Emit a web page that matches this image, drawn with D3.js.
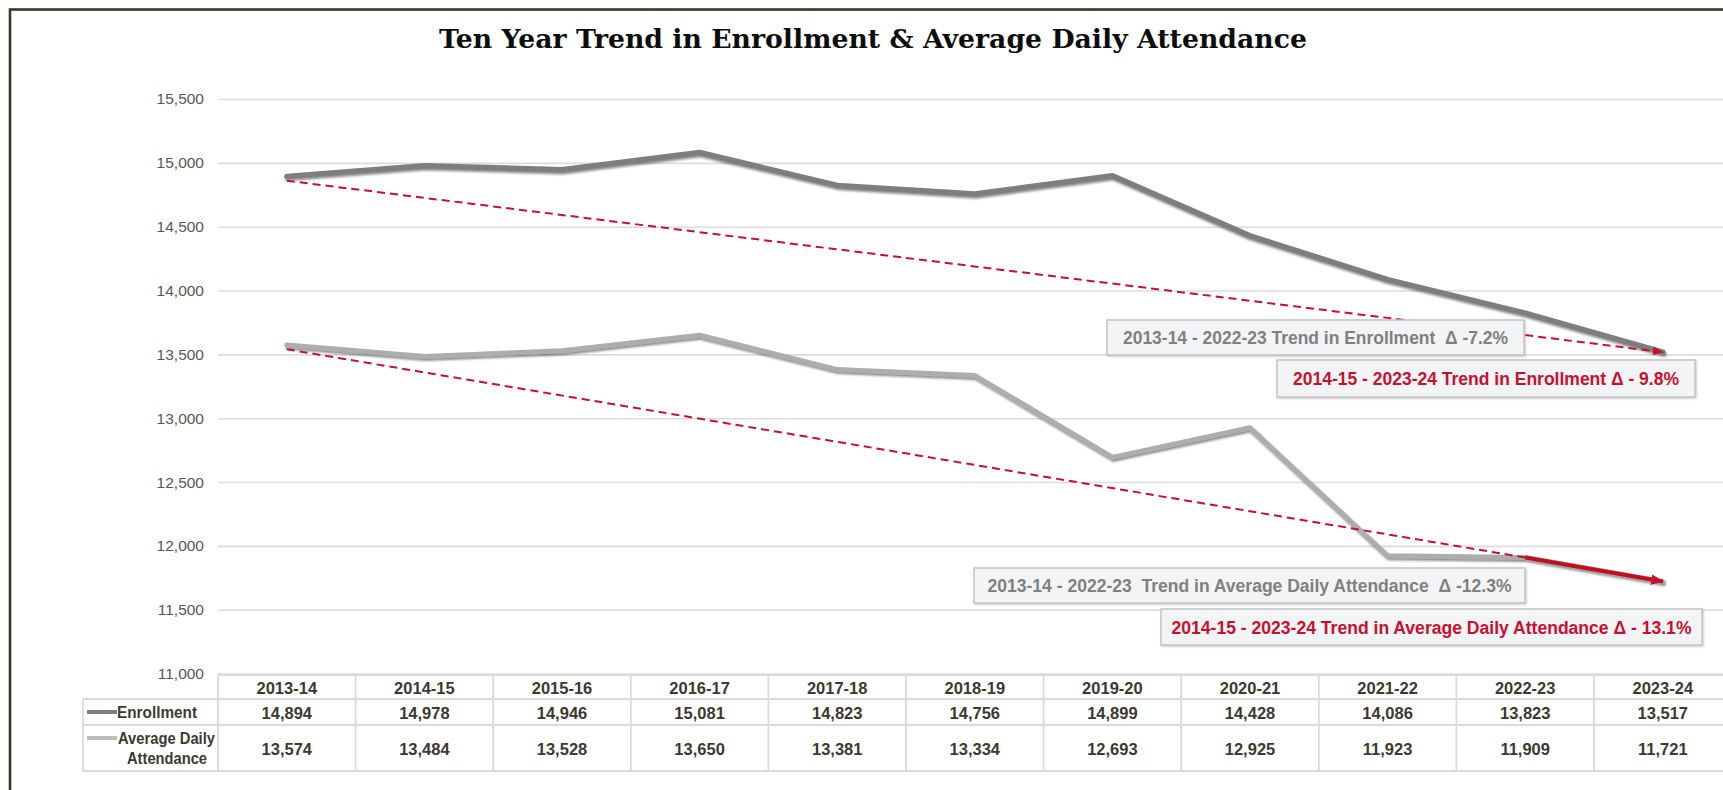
<!DOCTYPE html>
<html>
<head>
<meta charset="utf-8">
<script src="https://cdn.jsdelivr.net/npm/d3@7"></script>
<style>
  html, body { margin: 0; padding: 0; background: #ffffff; }
  svg { display: block; }
</style>
</head>
<body>
<svg id="chart" width="1723" height="790"></svg>
<script>
// School years shown on the category axis and in the data table
const categories = ["2013-14", "2014-15", "2015-16", "2016-17", "2017-18", "2018-19",
                    "2019-20", "2020-21", "2021-22", "2022-23", "2023-24"];
// Annual enrollment
const enrollment = [14894, 14978, 14946, 15081, 14823, 14756, 14899, 14428, 14086, 13823, 13517];
// Average daily attendance
const attendance = [13574, 13484, 13528, 13650, 13381, 13334, 12693, 12925, 11923, 11909, 11721];
// Value-axis ticks
const yTicks = [11000, 11500, 12000, 12500, 13000, 13500, 14000, 14500, 15000, 15500];
// Trend arrows (category, value)
const enrollTrend = [["2013-14", 14860], ["2023-24", 13517]];
const attendTrendDashed = [["2013-14", 13540], ["2022-23", 11909]];
const attendTrendSolid = [["2022-23", 11909], ["2023-24", 11721]];
// Annotation texts
const notes = [
  { text: "2013-14 - 2022-23 Trend in Enrollment  \u0394 -7.2%", kind: "grey", box: [1107, 320, 417, 35], len: 385 },
  { text: "2014-15 - 2023-24 Trend in Enrollment \u0394 - 9.8%", kind: "red", box: [1277, 360, 418, 37], len: 386 },
  { text: "2013-14 - 2022-23  Trend in Average Daily Attendance  \u0394 -12.3%", kind: "grey", box: [974, 568, 551, 35], len: 524 },
  { text: "2014-15 - 2023-24 Trend in Average Daily Attendance \u0394 - 13.1%", kind: "red", box: [1161, 609, 541, 36], len: 520 }
];

const svg = d3.select("#chart");
const W = 1723, H = 790;
const plotLeft = 218, colW = 137.6;
const tableTop = 675, row1 = 699, row2 = 725, row3 = 771;
const legendLeft = 83;

const x = d3.scaleBand().domain(categories).range([plotLeft, plotLeft + colW * categories.length]);
const cx = c => x(c) + x.bandwidth() / 2;
const y = d3.scaleLinear().domain([11000, 15500]).range([673.6, 99]);

const textColor = "#3d392e";
const gridColor = "#dcdcdc";
const red = "#c8102e";

// Drop shadow for the data lines
const defs = svg.append("defs");
const sh = defs.append("filter").attr("id", "shadow").attr("x", "-5%").attr("y", "-20%")
  .attr("width", "110%").attr("height", "140%");
sh.append("feDropShadow").attr("dx", 1).attr("dy", 2).attr("stdDeviation", 1.3)
  .attr("flood-color", "#404040").attr("flood-opacity", 0.6);
const boxSh = defs.append("filter").attr("id", "boxshadow").attr("x", "-5%").attr("y", "-20%")
  .attr("width", "110%").attr("height", "150%");
boxSh.append("feDropShadow").attr("dx", 1).attr("dy", 1).attr("stdDeviation", 0.8)
  .attr("flood-color", "#888").attr("flood-opacity", 0.45);

function arrow(id, size) {
  defs.append("marker").attr("id", id)
    .attr("viewBox", "0 0 10 10").attr("refX", 9).attr("refY", 5)
    .attr("markerWidth", size).attr("markerHeight", size)
    .attr("markerUnits", "userSpaceOnUse")
    .attr("orient", "auto")
    .append("path").attr("d", "M0,1 L10,5 L0,9 Z").attr("fill", red);
}
arrow("arrowSmall", 11);
arrow("arrowBig", 13);

// Outer frame (runs off the right and bottom of the canvas)
svg.append("rect").attr("x", 10).attr("y", 9.5).attr("width", W + 20).attr("height", H + 20)
  .attr("fill", "none").attr("stroke", "#3b3727").attr("stroke-width", 2.6);

// Title
svg.append("text")
  .attr("x", 873).attr("y", 48)
  .attr("text-anchor", "middle")
  .attr("font-family", "'DejaVu Serif', 'Liberation Serif', serif")
  .attr("font-weight", "bold").attr("font-size", 26)
  .attr("textLength", 868).attr("lengthAdjust", "spacingAndGlyphs")
  .attr("fill", "#0d0d0d")
  .text("Ten Year Trend in Enrollment & Average Daily Attendance");

// Gridlines and value axis
const yAxis = d3.axisLeft(y).tickValues(yTicks).tickSize(-(W + 40 - plotLeft))
  .tickFormat(d3.format(","));
const gy = svg.append("g").attr("transform", `translate(${plotLeft},0)`).call(yAxis);
gy.select(".domain").remove();
gy.selectAll(".tick line").attr("stroke", gridColor).attr("stroke-width", 1.6);
gy.selectAll(".tick text")
  .attr("x", -14)
  .attr("fill", "#5a5650")
  .attr("font-family", "'Liberation Sans', Arial, sans-serif")
  .attr("font-size", 15.5);

// Data lines
const line = d3.line().x((d, i) => cx(categories[i])).y(d => y(d));
svg.append("path").datum(attendance)
  .attr("d", line).attr("fill", "none")
  .attr("stroke", "#adadad").attr("stroke-width", 5)
  .attr("stroke-linejoin", "round").attr("stroke-linecap", "round")
  .attr("filter", "url(#shadow)");
svg.append("path").datum(enrollment)
  .attr("d", line).attr("fill", "none")
  .attr("stroke", "#7e7e7e").attr("stroke-width", 5.5)
  .attr("stroke-linejoin", "round").attr("stroke-linecap", "round")
  .attr("filter", "url(#shadow)");

// Trend arrows
const tline = d3.line().x(d => cx(d[0])).y(d => y(d[1]));
svg.append("path").datum(enrollTrend).attr("d", tline)
  .attr("fill", "none").attr("stroke", red).attr("stroke-width", 2)
  .attr("stroke-dasharray", "8,5").attr("marker-end", "url(#arrowSmall)");
svg.append("path").datum(attendTrendDashed).attr("d", tline)
  .attr("fill", "none").attr("stroke", red).attr("stroke-width", 2)
  .attr("stroke-dasharray", "8,5");
svg.append("path").datum(attendTrendSolid).attr("d", tline)
  .attr("fill", "none").attr("stroke", "#c0101e").attr("stroke-width", 4)
  .attr("marker-end", "url(#arrowBig)");

// Annotation call-outs
notes.forEach(n => {
  const [bx, by, bw, bh] = n.box;
  svg.append("rect").attr("x", bx).attr("y", by).attr("width", bw).attr("height", bh)
    .attr("fill", "#f3f4f6").attr("stroke", "#c4c4c4").attr("stroke-width", 1.5)
    .attr("filter", "url(#boxshadow)");
  svg.append("text")
    .attr("x", bx + bw / 2).attr("y", by + bh / 2 + 6.5)
    .attr("text-anchor", "middle")
    .attr("font-family", "'Liberation Sans', Arial, sans-serif")
    .attr("font-weight", "bold").attr("font-size", 17.5)
    .attr("textLength", n.len).attr("lengthAdjust", "spacingAndGlyphs")
    .style("white-space", "pre")
    .attr("fill", n.kind === "red" ? red : "#808080")
    .text(n.text);
});

// Data table
const table = svg.append("g");
const tStroke = "#dadada";
const farRight = W + 20;
table.append("line").attr("x1", plotLeft).attr("x2", farRight).attr("y1", tableTop).attr("y2", tableTop);
[row1, row2, row3].forEach(r =>
  table.append("line").attr("x1", legendLeft).attr("x2", farRight).attr("y1", r).attr("y2", r));
table.append("line").attr("x1", legendLeft).attr("x2", legendLeft).attr("y1", row1).attr("y2", row3);
categories.concat(["end"]).forEach((c, i) => {
  const xx = plotLeft + i * colW;
  table.append("line").attr("x1", xx).attr("x2", xx).attr("y1", tableTop).attr("y2", row3);
});
table.selectAll("line").attr("stroke", tStroke).attr("stroke-width", 1.8);

const cellFont = sel => sel
  .attr("font-family", "'Liberation Sans', Arial, sans-serif")
  .attr("font-weight", "bold").attr("font-size", 16.5)
  .attr("fill", textColor).attr("dominant-baseline", "central");

table.selectAll("text.hdr").data(categories).join("text").attr("class", "hdr")
  .attr("x", d => cx(d)).attr("y", (tableTop + row1) / 2 + 1)
  .attr("text-anchor", "middle").text(d => d).call(cellFont);
table.selectAll("text.enr").data(enrollment).join("text").attr("class", "enr")
  .attr("x", (d, i) => cx(categories[i])).attr("y", (row1 + row2) / 2 + 1)
  .attr("text-anchor", "middle").text(d => d3.format(",")(d)).call(cellFont);
table.selectAll("text.ada").data(attendance).join("text").attr("class", "ada")
  .attr("x", (d, i) => cx(categories[i])).attr("y", (row2 + row3) / 2 + 1)
  .attr("text-anchor", "middle").text(d => d3.format(",")(d)).call(cellFont);

// Legend keys in the table
table.append("line").attr("x1", 87).attr("x2", 117).attr("y1", 712).attr("y2", 712)
  .attr("stroke", "#7e7e7e").attr("stroke-width", 4);
table.append("line").attr("x1", 87).attr("x2", 117).attr("y1", 738).attr("y2", 738)
  .attr("stroke", "#bdbdbd").attr("stroke-width", 4);
table.append("text").attr("x", 117).attr("y", 712)
  .attr("textLength", 80).attr("lengthAdjust", "spacingAndGlyphs")
  .text("Enrollment").call(cellFont);
table.append("text").attr("x", 118).attr("y", 738)
  .attr("textLength", 97).attr("lengthAdjust", "spacingAndGlyphs")
  .text("Average Daily").call(cellFont);
table.append("text").attr("x", 127).attr("y", 758)
  .attr("textLength", 80).attr("lengthAdjust", "spacingAndGlyphs")
  .text("Attendance").call(cellFont);
</script>
</body>
</html>
